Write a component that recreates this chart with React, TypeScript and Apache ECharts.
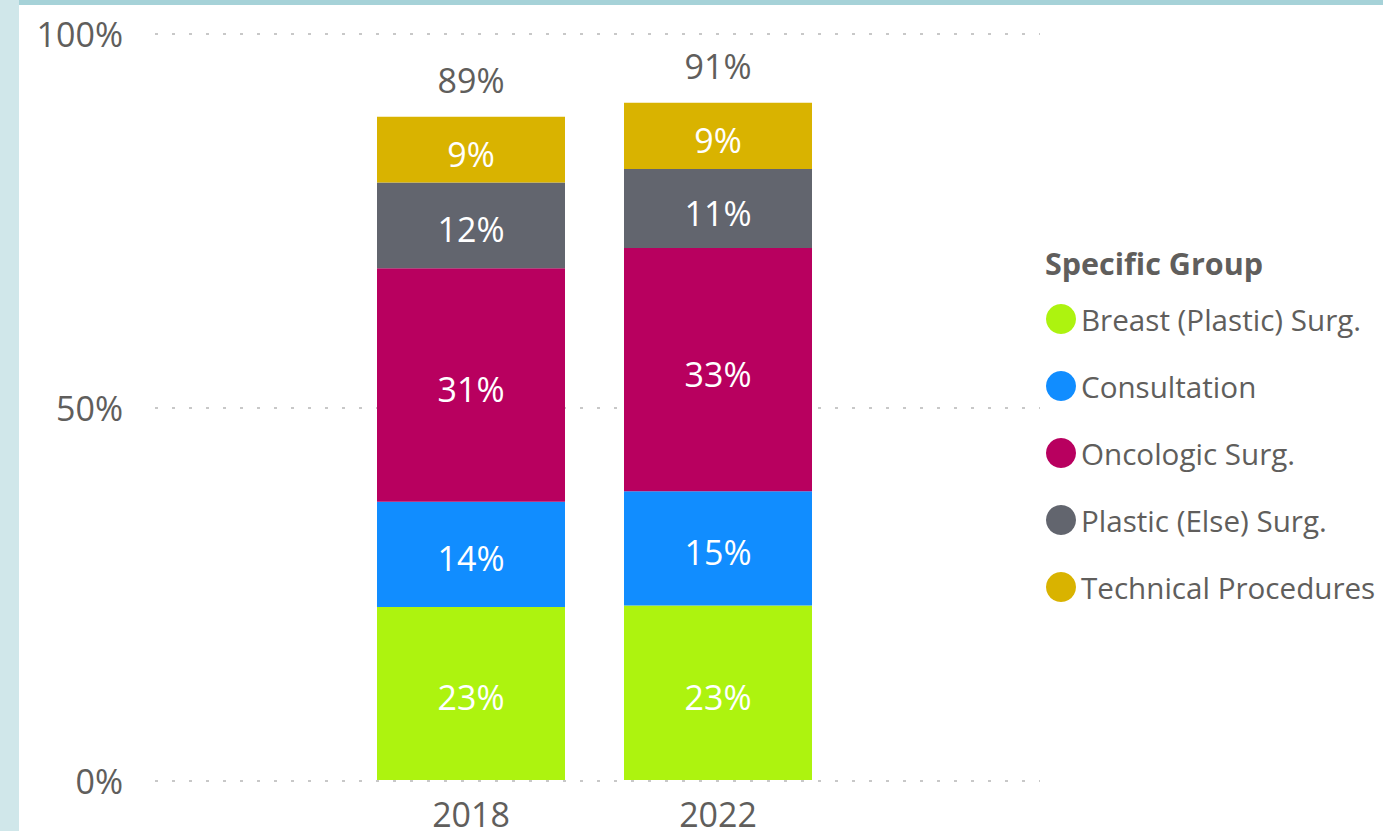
import React, { useEffect, useRef } from "react";
import * as echarts from "echarts";

const categories = ["2018", "2022"];
const seriesNames = [
  "Breast (Plastic) Surg.",
  "Consultation",
  "Oncologic Surg.",
  "Plastic (Else) Surg.",
  "Technical Procedures",
];
const breast = [23.2, 23.4];
const consultation = [14.1, 15.3];
const oncologic = [31.3, 32.6];
const plasticElse = [11.5, 10.6];
const technical = [8.8, 8.9];
const colors = ["#ADF30F", "#118DFF", "#B8005F", "#62656E", "#D9B300"];
const yMin = 0;
const yMax = 100;
const yInterval = 50;

const FONT = "'Open Sans', 'Noto Sans', sans-serif";
const TEXT = "#605E5C";

export default function App() {
  const ref = useRef<HTMLDivElement>(null);
  useEffect(() => {
    document.body.style.margin = "0";
    const chart = echarts.init(ref.current!, null, { renderer: "svg" });
    const all = [breast, consultation, oncologic, plasticElse, technical];
    const totals = categories.map((_, i) => all.reduce((s, a) => s + a[i], 0));
    const barSeries = all.map((data, k) => ({
      name: seriesNames[k],
      type: "bar",
      stack: "total",
      xAxisIndex: 1,
      yAxisIndex: 1,
      barWidth: 188,
      data,
      itemStyle: { color: colors[k] },
      label: {
        show: true,
        position: "inside",
        offset: [0, 4],
        color: "#FFFFFF",
        fontSize: 34,
        fontFamily: FONT,
        formatter: (p: any) => Math.round(p.value) + "%",
      },
    }));
    chart.setOption({
      animation: false,
      graphic: [
        { type: "rect", shape: { x: 0, y: 0, width: 19, height: 831 }, style: { fill: "#D0E7EA" } },
        { type: "rect", shape: { x: 19, y: 0, width: 1364, height: 5 }, style: { fill: "#A6D2D8" } },
      ],
      title: {
        text: "Specific Group",
        left: 1040,
        top: 242,
        textStyle: { fontFamily: FONT, fontSize: 30.5, fontWeight: "bold", color: TEXT },
      },
      legend: {
        orient: "vertical",
        left: 1041,
        top: 299,
        icon: "circle",
        itemWidth: 30,
        itemHeight: 30,
        itemGap: 37,
        data: seriesNames,
        textStyle: { fontFamily: FONT, fontSize: 29.6, color: TEXT },
      },
      grid: [
        { left: 155, right: 343, top: 34, bottom: 50 },
        { left: 347.5, right: 541.5, top: 34, bottom: 50 },
      ],
      xAxis: [
        { type: "category", gridIndex: 0, data: categories, show: false },
        {
          type: "category",
          gridIndex: 1,
          data: categories,
          axisLine: { show: false },
          axisTick: { show: false },
          axisLabel: { fontFamily: FONT, fontSize: 34, color: TEXT, margin: 17 },
        },
      ],
      yAxis: [
        {
          type: "value",
          gridIndex: 0,
          min: yMin,
          max: yMax,
          interval: yInterval,
          axisLine: { show: false },
          axisTick: { show: false },
          axisLabel: {
            fontFamily: FONT,
            fontSize: 34,
            color: TEXT,
            margin: 32,
            formatter: (v: number) => v + "%",
          },
          splitLine: { lineStyle: { color: "#C8C8C8", width: 2, type: [3, 14] } },
        },
        { type: "value", gridIndex: 1, min: yMin, max: yMax, interval: yInterval, show: false, splitLine: { show: false } },
      ],
      series: [
        ...barSeries,
        {
          name: "Total",
          type: "scatter",
          xAxisIndex: 1,
          yAxisIndex: 1,
          data: totals,
          symbol: "circle",
          symbolSize: 2,
          itemStyle: { color: "rgba(0,0,0,0)", opacity: 1 },
          silent: true,
          z: 5,
          label: {
            show: true,
            position: "top",
            distance: 19,
            color: TEXT,
            opacity: 1,
            fontSize: 34,
            fontFamily: FONT,
            formatter: (p: any) => Math.round(p.value) + "%",
          },
        },
      ],
    });
    return () => chart.dispose();
  }, []);
  return <div ref={ref} style={{ width: 1383, height: 831 }} />;
}
